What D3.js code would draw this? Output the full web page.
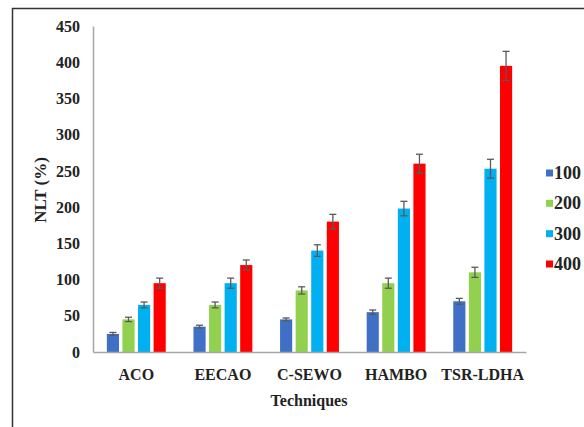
<!DOCTYPE html>
<html>
<head>
<meta charset="utf-8">
<script src="https://cdn.jsdelivr.net/npm/d3@7"></script>
<style>
  body { margin: 0; background: #fff; }
</style>
</head>
<body>
<div id="chart"></div>
<script>
var techniques = ["ACO", "EECAO", "C-SEWO", "HAMBO", "TSR-LDHA"]
var seriesNames = ["100", "200", "300", "400"]
var colors = ["#4070c6", "#92d050", "#00b0f0", "#ff0000"]

// NLT values per technique, one array per series
var nlt100 = [25, 35, 45, 55, 70]
var nlt200 = [45, 65, 85, 95, 110]
var nlt300 = [65, 95, 140, 198, 253]
var nlt400 = [95, 120, 180, 260, 395]

// error bar half-heights
var err100 = [2, 2, 2, 3, 4]
var err200 = [3, 4, 5, 7, 7]
var err300 = [4, 7, 8, 10, 13]
var err400 = [7, 7, 10, 13, 20]

var yTicks = [0, 50, 100, 150, 200, 250, 300, 350, 400, 450]

var values = [nlt100, nlt200, nlt300, nlt400]
var errors = [err100, err200, err300, err400]

var width = 584, height = 427
var font = "'Liberation Serif'"

var svg = d3.select("#chart").append("svg")
    .attr("width", width)
    .attr("height", height)

// outer frame (runs off the right and bottom edge)
svg.append("rect")
    .attr("x", 12.5).attr("y", 8.5)
    .attr("width", 600).attr("height", 440)
    .attr("fill", "none")
    .attr("stroke", "#333")
    .attr("stroke-width", 1.5)

var x0 = d3.scaleBand()
    .domain(techniques)
    .range([93, 526])
    .paddingInner(0.32)
    .paddingOuter(0.16)

var x1 = d3.scaleBand()
    .domain(seriesNames)
    .range([0, x0.bandwidth()])
    .paddingInner(0.22)

var y = d3.scaleLinear()
    .domain([0, 450])
    .range([352, 26])

function styleText(sel, size) {
    sel.style("font-family", font)
        .style("font-weight", "bold")
        .style("font-size", size + "px")
        .attr("fill", "#222")
}

// y axis
var yAxis = svg.append("g")
    .attr("transform", "translate(93,0)")
    .call(d3.axisLeft(y).tickValues(yTicks).tickSize(0).tickPadding(13))
yAxis.select(".domain").attr("stroke", "#a6a6a6").attr("stroke-width", 1.5)
styleText(yAxis.selectAll("text"), 16)

// bars
var data = []
techniques.forEach(function(t, i) {
    seriesNames.forEach(function(s, j) {
        data.push({ tech: t, series: s, value: values[j][i], err: errors[j][i], color: colors[j] })
    })
})

svg.append("g").selectAll("rect")
    .data(data)
    .join("rect")
    .attr("x", function(d) { return x0(d.tech) + x1(d.series) })
    .attr("y", function(d) { return y(d.value) })
    .attr("width", x1.bandwidth())
    .attr("height", function(d) { return y(0) - y(d.value) })
    .attr("fill", function(d) { return d.color })

// error bars
var eb = svg.append("g").attr("stroke", "#5a5a5a").attr("stroke-width", 1.3)
data.forEach(function(d) {
    var cx = x0(d.tech) + x1(d.series) + x1.bandwidth() / 2
    eb.append("line")
        .attr("x1", cx).attr("x2", cx)
        .attr("y1", y(d.value + d.err)).attr("y2", y(d.value - d.err))
    eb.append("line")
        .attr("x1", cx - 3.5).attr("x2", cx + 3.5)
        .attr("y1", y(d.value + d.err)).attr("y2", y(d.value + d.err))
    eb.append("line")
        .attr("x1", cx - 3.5).attr("x2", cx + 3.5)
        .attr("y1", y(d.value - d.err)).attr("y2", y(d.value - d.err))
})

// x axis
var xAxis = svg.append("g")
    .attr("transform", "translate(0,352)")
    .call(d3.axisBottom(x0).tickSize(0).tickPadding(17).tickSizeOuter(0))
xAxis.select(".domain").attr("stroke", "#a6a6a6").attr("stroke-width", 1.5)
styleText(xAxis.selectAll("text"), 16)

// axis titles
styleText(svg.append("text")
    .attr("x", 309).attr("y", 406)
    .attr("text-anchor", "middle")
    .text("Techniques"), 16)

styleText(svg.append("text")
    .attr("transform", "translate(46,190) rotate(-90)")
    .attr("text-anchor", "middle")
    .text("NLT (%)"), 17)

// legend
var legend = svg.append("g")
var legendY = d3.scalePoint().domain(seriesNames).range([173, 264])
seriesNames.forEach(function(s, j) {
    legend.append("rect")
        .attr("x", 546).attr("y", legendY(s) - 3.5)
        .attr("width", 7).attr("height", 7)
        .attr("fill", colors[j])
    styleText(legend.append("text")
        .attr("x", 554).attr("y", legendY(s) + 6)
        .text(s), 18)
})
</script>
</body>
</html>
